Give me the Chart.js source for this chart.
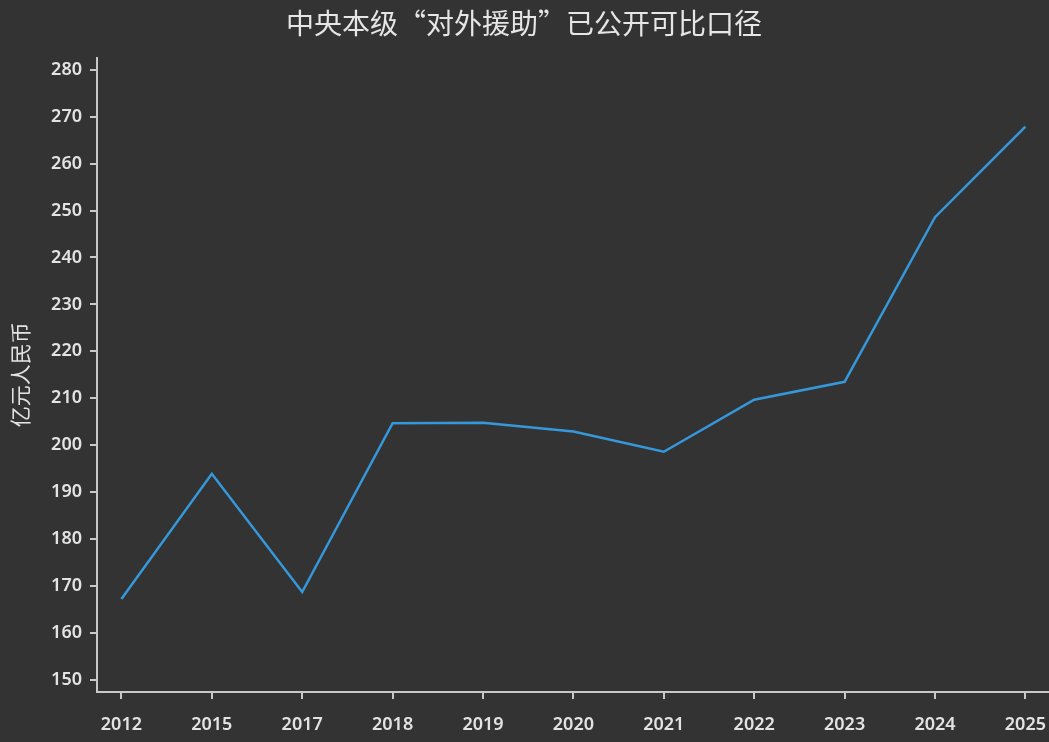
<!DOCTYPE html>
<html>
<head>
<meta charset="utf-8">
<script src="https://cdn.jsdelivr.net/npm/chart.js@4"></script>
<style>
  html, body { margin: 0; padding: 0; background: #333333; }
  canvas { display: block; }
</style>
</head>
<body>
<canvas id="aidChart" width="1049" height="742"></canvas>
<script>
// data
const years = ['2012', '2015', '2017', '2018', '2019', '2020', '2021', '2022', '2023', '2024', '2025'];
const aidAmounts = [167.2, 193.9, 168.7, 204.7, 204.8, 202.9, 198.6, 209.7, 213.5, 248.6, 267.9];
const chartTitle = '中央本级“对外援助”已公开可比口径';
const yAxisTitle = '亿元人民币';

const textColor = '#e3e3e3';
const axisColor = '#c8c8c8';

let points = [];
for (let i = 0; i < years.length; i++) {
    points.push({ x: i, y: aidAmounts[i] });
}

const ctx = document.getElementById('aidChart').getContext('2d');
const aidChart = new Chart(ctx, {
    type: 'line',
    data: {
        datasets: [{
            label: yAxisTitle,
            data: points,
            borderColor: '#3498db',
            borderWidth: 2.5,
            pointRadius: 0,
            tension: 0,
            fill: false
        }]
    },
    options: {
        responsive: false,
        animation: false,
        layout: { padding: { left: 0, right: 1, top: 0, bottom: 0 } },
        plugins: {
            legend: { display: false },
            tooltip: { enabled: false },
            title: {
                display: true,
                text: chartTitle,
                color: '#e6e6e6',
                font: { family: '"Noto Sans CJK SC", "Noto Sans", sans-serif', size: 28, weight: 'normal' },
                padding: { top: 7, bottom: 17 }
            }
        },
        scales: {
            x: {
                type: 'linear',
                min: -0.27,
                max: 10.25,
                afterFit: function (scale) {
                    scale.height = 50;
                    // let the last label run to the canvas edge like the original
                    scale.paddingLeft = 0;
                    scale.paddingRight = 0;
                },
                border: { display: true, color: axisColor, width: 2 },
                grid: { display: true, drawOnChartArea: false, color: axisColor, lineWidth: 2, tickLength: 7 },
                ticks: {
                    stepSize: 1,
                    includeBounds: false,
                    autoSkip: false,
                    maxRotation: 0,
                    color: textColor,
                    padding: 15,
                    font: { family: '"Noto Sans", sans-serif', size: 18, weight: '600' },
                    callback: function (value) { return years[value] !== undefined ? years[value] : ''; }
                }
            },
            y: {
                type: 'linear',
                min: 147.4,
                max: 282.6,
                afterFit: function (scale) { scale.width = 97; },
                border: { display: true, color: axisColor, width: 2 },
                grid: { display: true, drawOnChartArea: false, color: axisColor, lineWidth: 2, tickLength: 7 },
                ticks: {
                    stepSize: 10,
                    includeBounds: false,
                    color: textColor,
                    padding: 8,
                    font: { family: '"Noto Sans", sans-serif', size: 18, weight: '600' }
                },
                title: {
                    display: true,
                    text: yAxisTitle,
                    color: textColor,
                    font: { family: '"Noto Sans CJK SC", sans-serif', size: 21, weight: 'normal' },
                    padding: { top: 7, bottom: 0 }
                }
            }
        }
    }
});
</script>
</body>
</html>
